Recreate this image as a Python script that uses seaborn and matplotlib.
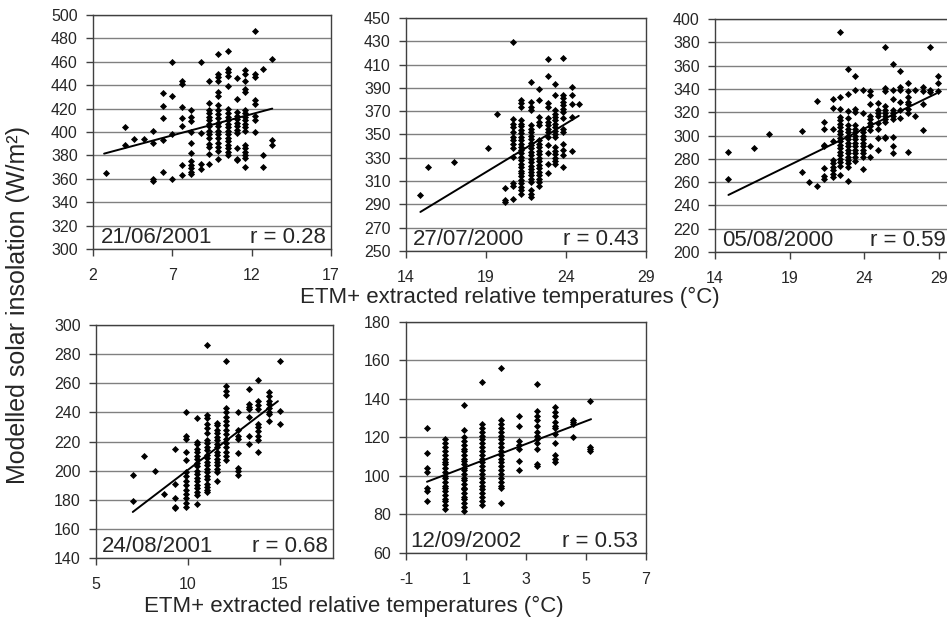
import matplotlib
matplotlib.use("Agg")
from matplotlib import pyplot as plt
import pandas as pd
import seaborn as sns

# === Panel data (x column -> y values) ===
p1_cols = [2.8, 4.0, 4.6, 5.2, 5.8, 6.4, 7.0, 7.6, 8.2, 8.8, 9.3, 9.9, 10.5, 11.1, 11.6, 12.2, 12.7, 13.3]
p1_vals = [
    [365], [404, 389], [394], [394], [401, 391, 360, 358],
    [433, 422, 412, 393, 366], [460, 431, 398, 360],
    [444, 441, 421, 412, 405, 372, 363],
    [419, 413, 409, 400, 391, 382, 375, 372, 369, 366, 364],
    [460, 399, 373, 368],
    [444, 425, 419, 416, 413, 410, 407, 405, 401, 398, 395, 390, 387, 381, 373],
    [467, 450, 447, 444, 434, 431, 423, 419, 415, 412, 408, 405, 401, 398, 395, 391, 387, 384, 377],
    [469, 454, 451, 448, 439, 420, 416, 413, 410, 407, 404, 401, 398, 395, 392, 389, 386, 383, 380],
    [446, 428, 417, 414, 411, 408, 405, 402, 399, 386, 377, 376],
    [453, 450, 444, 437, 434, 419, 416, 413, 410, 407, 404, 401, 389, 386, 383, 380, 378, 370],
    [486, 450, 447, 427, 424, 414, 410, 400],
    [454, 380, 370],
    [462, 393, 389],
]
p1_line = ([2.7, 13.3], [381.5, 420])

p2_cols = [14.9, 15.4, 17.0, 19.1, 19.7, 20.2, 20.7, 21.2, 21.8, 22.3, 22.9, 23.3, 23.8, 24.4, 24.8]
p2_vals = [
    [298], [322], [326], [338], [368], [304, 294, 292],
    [429, 363, 359, 356, 352, 348, 345, 342, 338, 331, 308, 306, 295],
    [380, 377, 374, 362, 359, 357, 354, 351, 348, 345, 342, 339, 337, 334, 331, 328, 325, 322, 319, 317, 314, 311, 308, 305, 302, 299],
    [395, 378, 374, 371, 358, 355, 352, 349, 346, 343, 341, 338, 335, 332, 329, 326, 323, 320, 318, 315, 312, 309, 302, 299, 296],
    [389, 380, 365, 361, 358, 345, 342, 339, 336, 333, 330, 327, 324, 321, 318, 315, 312, 309, 306],
    [415, 400, 377, 374, 364, 361, 358, 355, 352, 348, 341, 334, 325, 317],
    [393, 384, 371, 368, 365, 362, 359, 356, 353, 350, 348, 339, 336, 333, 330, 327, 325],
    [416, 384, 381, 378, 375, 372, 369, 364, 355, 352, 342, 337, 332, 322],
    [391, 384, 376, 365, 336],
    [376],
]
p2_line = ([14.9, 24.8], [283.5, 366])

p3_cols = [14.9, 16.6, 17.6, 19.8, 20.3, 20.8, 21.3, 21.9, 22.4, 22.9, 23.4, 23.9, 24.4, 24.9,
           25.4, 25.9, 26.4, 26.9, 27.4, 27.9, 28.4, 28.9]
p3_vals = [
    [286, 263], [289], [301], [304, 269], [260], [330, 257],
    [312, 306, 292, 291, 272, 265, 263],
    [331, 324, 306, 295, 279, 276, 273, 270, 267, 264],
    [389, 333, 323, 316, 313, 310, 307, 304, 301, 298, 295, 292, 289, 286, 283, 280, 277, 274, 266],
    [357, 336, 321, 315, 309, 306, 303, 300, 297, 294, 291, 288, 285, 282, 279, 276, 273, 261],
    [351, 339, 323, 320, 309, 306, 303, 300, 297, 294, 291, 288, 285, 282, 278],
    [339, 319, 306, 303, 300, 297, 294, 291, 288, 285, 282, 271],
    [338, 335, 327, 317, 314, 311, 308, 305, 291, 282],
    [328, 322, 319, 317, 311, 306, 298, 288],
    [376, 341, 338, 325, 322, 319, 317, 314, 312, 299, 298],
    [361, 339, 331, 322, 319, 317, 314, 299, 291, 285],
    [355, 342, 339, 329, 322, 315],
    [345, 338, 333, 329, 327, 323, 319, 286],
    [339, 317],
    [342, 338, 327, 305],
    [376, 339, 337],
    [351, 345, 338],
]
p3_line = ([14.9, 28.8], [249, 336])

p4_cols = [7.0, 7.6, 8.2, 8.7, 9.3, 9.9, 10.5, 11.05, 11.6, 12.1, 12.7, 13.3, 13.8, 14.4, 15.0]
p4_vals = [
    [197, 179], [210], [200], [184], [215, 191, 181, 175, 174],
    [240, 224, 222, 213, 207, 199, 196, 193, 190, 187, 184, 181, 178, 175],
    [236, 220, 218, 215, 213, 210, 208, 205, 203, 200, 198, 195, 193, 190, 188, 185, 183, 177],
    [286, 238, 236, 232, 229, 226, 221, 219, 216, 214, 211, 209, 206, 204, 201, 199, 196, 194, 191, 189, 187, 185],
    [233, 231, 228, 226, 223, 221, 218, 216, 213, 211, 208, 206, 204, 201, 199, 193],
    [275, 258, 255, 252, 243, 240, 237, 234, 231, 228, 225, 222, 219, 216, 213, 210, 207],
    [240, 228, 224, 222, 212, 202, 200, 197],
    [256, 246, 244, 242, 237, 224, 218],
    [262, 248, 245, 242, 232, 230, 227, 224, 221, 213],
    [254, 251, 248, 246, 243, 240, 239, 234],
    [275, 241, 232],
]
p4_line = ([7.0, 14.9], [171.6, 247.7])

p5_cols = [-0.3, 0.3, 0.93, 1.54, 2.16, 2.77, 3.38, 3.97, 4.56, 5.14]
p5_vals = [
    [125, 112, 104, 102, 94, 92, 87],
    [119, 117, 115, 113, 111, 109, 107, 106, 104, 102, 100, 99, 97, 95, 94, 92, 90, 88, 87, 85, 83],
    [137, 124, 120, 118, 116, 114, 113, 111, 109, 108, 106, 104, 103, 101, 99, 98, 96, 94, 93, 91, 89, 88, 86, 84, 82],
    [149, 127, 125, 123, 121, 119, 117, 115, 113, 111, 109, 107, 105, 103, 101, 99, 97, 95, 93, 91, 89, 87, 85],
    [156, 129, 127, 125, 123, 121, 119, 117, 115, 113, 111, 109, 107, 105, 103, 101, 99, 97, 95, 94, 86],
    [131, 126, 118, 116, 114, 108, 103],
    [148, 134, 131, 129, 126, 123, 121, 119, 117, 114, 106, 105],
    [136, 133, 131, 128, 126, 125, 122, 117, 111, 109, 107],
    [129, 128, 127, 120],
    [139, 115, 114, 113],
]
p5_line = ([-0.3, 5.17], [97, 129.5])

dates = ["21/06/2001", "27/07/2000", "05/08/2000", "24/08/2001", "12/09/2002"]
r_labels = ["r = 0.28", "r = 0.43", "r = 0.59", "r = 0.68", "r = 0.53"]

# === Style ===
sns.set_style("white")
plt.rcParams['font.family'] = ['Liberation Sans', 'DejaVu Sans']
plt.rcParams['axes.unicode_minus'] = False

fig = plt.figure(figsize=(9.47, 6.2), dpi=100)

panels = [
    # cols, vals, trend line, axes rect, xlim, xticks, ylim, date x, r x (axes fraction)
    (p1_cols, p1_vals, p1_line, [0.0982, 0.5984, 0.2513, 0.3774], (2, 17), [2, 7, 12, 17], (300, 500), 0.035, 0.98),
    (p2_cols, p2_vals, p2_line, [0.4287, 0.5952, 0.2534, 0.3758], (14, 29), [14, 19, 24, 29], (250, 450), 0.03, 0.97),
    (p3_cols, p3_vals, p3_line, [0.7550, 0.5935, 0.2524, 0.3758], (14, 30), [14, 19, 24, 29], (200, 400), 0.03, None),
    (p4_cols, p4_vals, p4_line, [0.1014, 0.1000, 0.2503, 0.3758], (5, 17.9), [5, 10, 15], (140, 300), 0.024, 0.98),
    (p5_cols, p5_vals, p5_line, [0.4287, 0.1081, 0.2534, 0.3726], (-1, 7), [-1, 1, 3, 5, 7], (60, 180), 0.017, 0.967),
]

for i, (cols, vals, line, rect, xlim, xticks, ylim, dx, rx) in enumerate(panels):
    ax = fig.add_axes(rect)
    xs, ys = [], []
    for c, v in zip(cols, vals):
        xs += [c] * len(v)
        ys += v
    df = pd.DataFrame({'x': xs, 'y': ys})
    sns.scatterplot(data=df, x='x', y='y', ax=ax, marker='D', color='black',
                    s=13, linewidth=0, zorder=3)
    sns.lineplot(x=line[0], y=line[1], ax=ax, color='black', linewidth=1.4, zorder=4)

    ax.set_xlim(*xlim)
    ax.set_ylim(*ylim)
    ax.set_xticks(xticks)
    ax.set_yticks(range(ylim[0], ylim[1] + 1, 20))
    ax.yaxis.grid(True, color='#808080', linewidth=1)
    ax.set_axisbelow(True)
    for s in ax.spines.values():
        s.set_color('#404040')
        s.set_linewidth(1)
    ax.tick_params(bottom=True, left=True, direction='out', length=5, width=1,
                   color='#404040', labelsize=11.5)
    ax.tick_params(axis='y', pad=6)
    ax.tick_params(axis='x', pad=9)
    ax.set_xlabel('')
    ax.set_ylabel('')

    ax.text(dx, 0.005, dates[i], transform=ax.transAxes, fontsize=16,
            ha='left', va='bottom', zorder=5)
    if rx is None:
        # this one runs to the right edge of the figure
        ax.text(946 / 947, 0.005, r_labels[i], transform=ax.get_yaxis_transform().__class__(fig.transFigure, ax.transAxes),
                fontsize=16, ha='right', va='bottom', zorder=5)
    else:
        ax.text(rx, 0.005, r_labels[i], transform=ax.transAxes, fontsize=16,
                ha='right', va='bottom', zorder=5)

fig.text(18 / 947, 1 - 305 / 620, "Modelled solar insolation (W/m²)", rotation=90,
         ha='center', va='center', fontsize=18)
fig.text(510 / 947, 1 - 297 / 620, "ETM+ extracted relative temperatures (°C)",
         ha='center', va='center', fontsize=16)
fig.text(354 / 947, 1 - 606 / 620, "ETM+ extracted relative temperatures (°C)",
         ha='center', va='center', fontsize=16)

fig.savefig("out.png", dpi=100)
